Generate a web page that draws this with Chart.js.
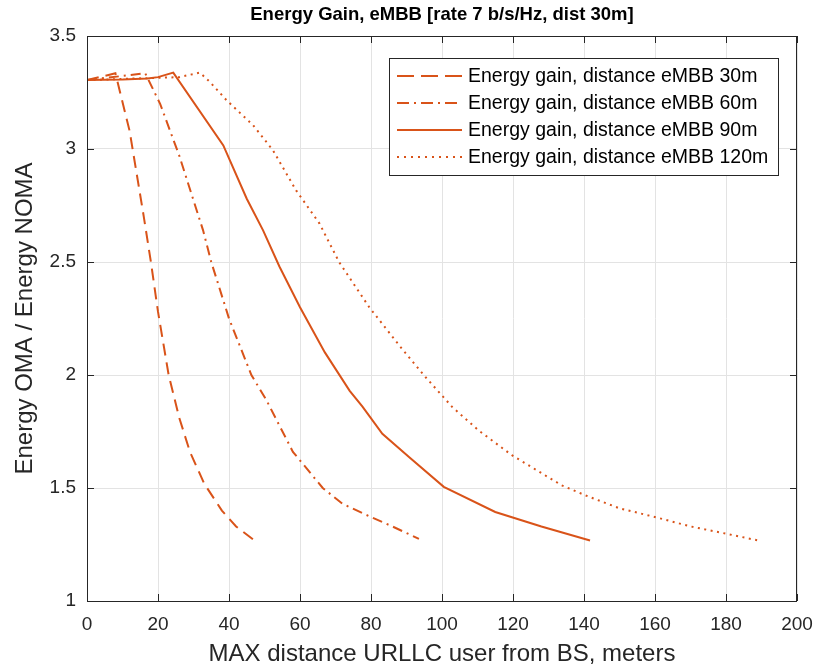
<!DOCTYPE html>
<html>
<head>
<meta charset="utf-8">
<script src="https://cdn.jsdelivr.net/npm/chart.js@4"></script>
<style>
  html, body { margin: 0; padding: 0; background: #fff; }
  #wrap { width: 819px; height: 671px; }
</style>
</head>
<body>
<div id="wrap"><canvas id="grafica" width="819" height="671"></canvas></div>
<script>
// data
const titulo = 'Energy Gain, eMBB [rate 7 b/s/Hz, dist 30m]';
const etiquetas = ['Energy gain, distance eMBB 30m', 'Energy gain, distance eMBB 60m',
                   'Energy gain, distance eMBB 90m', 'Energy gain, distance eMBB 120m'];

const x30 = [0, 8, 12, 16, 18, 20, 23, 26, 29, 33, 38, 42, 47];
const y30 = [3.305, 3.335, 3.08, 2.70, 2.50, 2.28, 2.00, 1.81, 1.66, 1.52, 1.40, 1.33, 1.27];

const x60 = [0, 16.4, 20.6, 26, 32.7, 35, 40, 46.3, 50.5, 58, 66.4, 72, 79.5, 86, 93.5];
const y60 = [3.305, 3.335, 3.20, 2.97, 2.64, 2.50, 2.25, 2.00, 1.89, 1.66, 1.50, 1.43, 1.375, 1.33, 1.275];

const x90 = [0, 10, 17, 20, 24.3, 38.4, 45, 49.6, 54.2, 60, 67, 74, 77.6, 83.2, 90.7, 100.5, 115, 128, 141.7];
const y90 = [3.305, 3.307, 3.312, 3.318, 3.338, 3.016, 2.78, 2.64, 2.48, 2.30, 2.10, 1.93, 1.86, 1.74, 1.637, 1.505, 1.394, 1.33, 1.268];

const x120 = [0, 26, 31.8, 34.6, 39.3, 46.8, 52.4, 58.9, 65.5, 71, 79.5, 88, 95.4, 102.9, 110.3, 119.7, 133.7, 140.3, 150, 159.9, 170, 180, 189];
const y120 = [3.305, 3.318, 3.338, 3.297, 3.216, 3.105, 2.994, 2.817, 2.67, 2.50, 2.30, 2.13, 1.99, 1.858, 1.755, 1.645, 1.512, 1.468, 1.41, 1.372, 1.33, 1.298, 1.268];

const xTicks = [0, 20, 40, 60, 80, 100, 120, 140, 160, 180, 200];
const yTicks = [1, 1.5, 2, 2.5, 3, 3.5];

const naranja = '#D95319';
const fuente = "'Liberation Sans', Arial, sans-serif";

function puntos(xs, ys) {
    return xs.map((x, i) => ({ x: x, y: ys[i] }));
}

// box, inward ticks, title and legend like the original figure
const cajaPlugin = {
    id: 'caja',
    afterDraw(chart) {
        const ctx = chart.ctx;
        const a = chart.chartArea;
        const sx = chart.scales.x, sy = chart.scales.y;
        ctx.save();
        ctx.strokeStyle = '#262626';
        ctx.lineWidth = 1;
        ctx.strokeRect(a.left + 0.5, a.top + 0.5, a.right - a.left - 1, a.bottom - a.top);
        ctx.beginPath();
        xTicks.forEach(v => {
            const p = Math.round(sx.getPixelForValue(v)) + 0.5;
            ctx.moveTo(p, a.bottom); ctx.lineTo(p, a.bottom - 7);
            ctx.moveTo(p, a.top); ctx.lineTo(p, a.top + 7);
        });
        yTicks.forEach(v => {
            const p = Math.round(sy.getPixelForValue(v)) + 0.5;
            ctx.moveTo(a.left, p); ctx.lineTo(a.left + 7, p);
            ctx.moveTo(a.right, p); ctx.lineTo(a.right - 7, p);
        });
        ctx.stroke();

        // title
        ctx.fillStyle = '#000';
        ctx.font = 'bold 18.5px ' + fuente;
        ctx.textAlign = 'center';
        ctx.textBaseline = 'middle';
        ctx.fillText(titulo, (a.left + a.right) / 2, 15);

        // legend
        const lx = 389.5, ly = 58.5, lw = 389, lh = 117;
        ctx.fillStyle = '#fff';
        ctx.fillRect(lx, ly, lw, lh);
        ctx.strokeStyle = '#262626';
        ctx.strokeRect(lx, ly, lw, lh);
        ctx.font = '19.5px ' + fuente;
        ctx.textAlign = 'left';
        chart.data.datasets.forEach((ds, i) => {
            const yy = 76 + i * 27;
            ctx.strokeStyle = naranja;
            ctx.lineWidth = 2;
            ctx.setLineDash(ds.legendDash);
            ctx.beginPath();
            ctx.moveTo(397, yy); ctx.lineTo(462, yy);
            ctx.stroke();
            ctx.setLineDash([]);
            ctx.fillStyle = '#000';
            ctx.fillText(ds.label, 468, yy + 1);
        });
        ctx.restore();
    }
};

function createChart() {
    const ctx = document.getElementById('grafica').getContext('2d');
    new Chart(ctx, {
        type: 'line',
        data: {
            datasets: [{
                label: etiquetas[0],
                data: puntos(x30, y30),
                borderDash: [12, 7],
                legendDash: [17, 7]
            }, {
                label: etiquetas[1],
                data: puntos(x60, y60),
                borderDash: [10, 5, 2, 5],
                legendDash: [12, 5, 2, 5]
            }, {
                label: etiquetas[2],
                data: puntos(x90, y90),
                borderDash: [],
                legendDash: []
            }, {
                label: etiquetas[3],
                data: puntos(x120, y120),
                borderDash: [2, 4.5],
                legendDash: [2, 5]
            }].map(d => Object.assign(d, {
                borderColor: naranja,
                backgroundColor: naranja,
                borderWidth: 2,
                pointRadius: 0,
                tension: 0,
                fill: false
            }))
        },
        options: {
            responsive: false,
            animation: false,
            layout: { padding: { top: 36, right: 22, left: 0, bottom: 0 } },
            plugins: {
                legend: { display: false },
                title: { display: false },
                tooltip: { enabled: false }
            },
            scales: {
                x: {
                    type: 'linear',
                    min: 0,
                    max: 200,
                    afterFit(s) { s.height = 70; s.paddingLeft = 0; s.paddingRight = 0; },
                    afterBuildTicks(s) { s.ticks = xTicks.map(v => ({ value: v })); },
                    grid: { color: '#e3e3e3', drawTicks: false },
                    border: { display: false },
                    ticks: { color: '#262626', font: { family: fuente, size: 19 }, padding: 12, maxRotation: 0 },
                    title: {
                        display: true,
                        text: 'MAX distance URLLC user from BS, meters',
                        color: '#262626',
                        font: { family: fuente, size: 24 },
                        padding: { top: 0, bottom: 2 }
                    }
                },
                y: {
                    min: 1,
                    max: 3.5,
                    afterFit(s) { s.width = 87; s.paddingTop = 0; s.paddingBottom = 0; },
                    afterBuildTicks(s) { s.ticks = yTicks.map(v => ({ value: v })); },
                    grid: { color: '#e3e3e3', drawTicks: false },
                    border: { display: false },
                    ticks: {
                        color: '#262626',
                        font: { family: fuente, size: 19 },
                        padding: 11,
                        callback: v => String(v)
                    },
                    title: {
                        display: true,
                        text: 'Energy OMA / Energy NOMA',
                        color: '#262626',
                        font: { family: fuente, size: 24 },
                        padding: { top: 11, bottom: 0 }
                    }
                }
            }
        },
        plugins: [cajaPlugin]
    });
}

document.addEventListener('DOMContentLoaded', () => {
    createChart();
});
</script>
</body>
</html>
